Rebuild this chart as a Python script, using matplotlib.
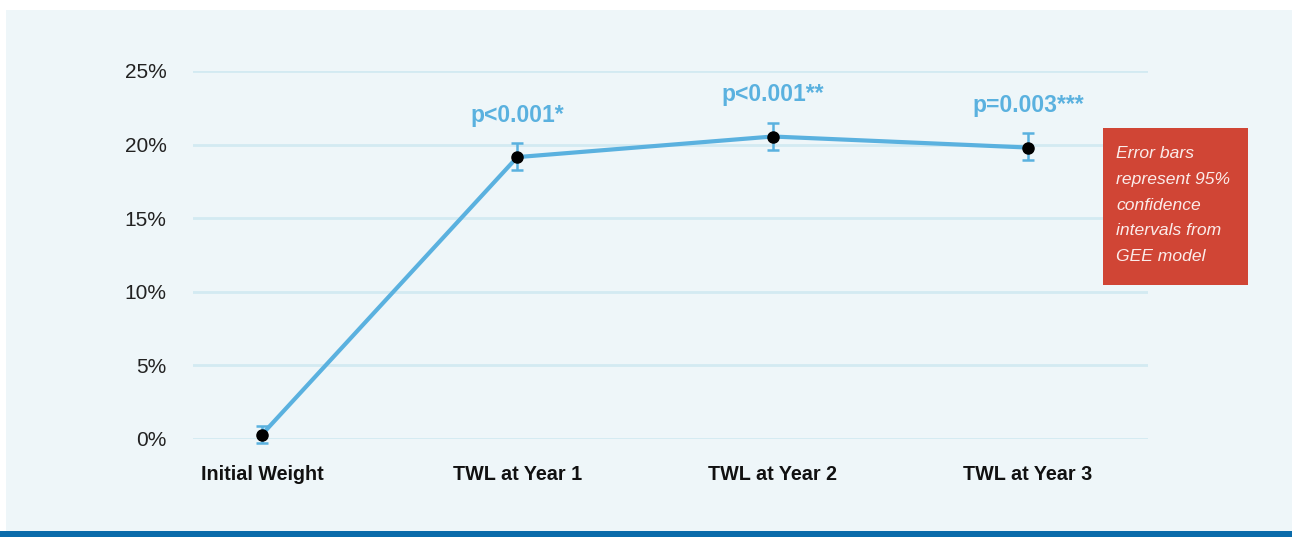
import matplotlib.pyplot as plt
from matplotlib.patches import Rectangle
import numpy as np

plt.rcParams['font.family'] = ['Liberation Sans', 'DejaVu Sans']

categories = ["Initial Weight", "TWL at Year 1", "TWL at Year 2", "TWL at Year 3"]
twl = [0.3, 19.15, 20.55, 19.8]
ci_low = [-0.3, 18.3, 19.65, 18.95]
ci_high = [0.9, 20.1, 21.5, 20.8]
p_labels = ["", "p<0.001*", "p<0.001**", "p=0.003***"]
y_ticks = [0, 5, 10, 15, 20, 25]

panel_bg = "#EEF6F9"
grid_col = "#D3EAF2"
line_col = "#5AB1DF"
box_col = "#D04535"
band_col = "#0A6BAA"

W, H = 1292, 537
fig = plt.figure(figsize=(W / 100, H / 100), dpi=100)
fig.patch.set_facecolor("white")

# light panel and dark band along the bottom
fig.patches.append(Rectangle((6 / W, 6 / H), 1 - 6 / W, 1 - 16 / H,
                             transform=fig.transFigure, facecolor=panel_bg,
                             edgecolor="none", zorder=-2))
fig.patches.append(Rectangle((0, 0), 1, 6 / H, transform=fig.transFigure,
                             facecolor=band_col, edgecolor="none", zorder=-2))

ax = fig.add_axes([193 / W, (H - 439) / H, (1148 - 193) / W, (439 - 71) / H])
ax.set_facecolor("none")
for s in ax.spines.values():
    s.set_visible(False)

x = np.arange(len(categories))
ax.set_xlim(-0.27, 3.47)
ax.set_ylim(0, 25)
ax.set_yticks(y_ticks)
ax.set_yticklabels([f"{t}%" for t in y_ticks], fontsize=15, color="#222222")
ax.set_xticks(x)
ax.set_xticklabels(categories, fontsize=14.2, fontweight="bold", color="#111111")
ax.tick_params(axis="y", length=0, pad=19)
ax.tick_params(axis="x", length=0, pad=19)
ax.grid(axis="y", color=grid_col, linewidth=2)
ax.set_axisbelow(True)

lo = np.array(twl) - np.array(ci_low)
hi = np.array(ci_high) - np.array(twl)
ax.errorbar(x, twl, yerr=[lo, hi], fmt="none", ecolor=line_col, elinewidth=1.8,
            capsize=4, capthick=1.8, clip_on=False, zorder=3)
ax.plot(x, twl, color=line_col, linewidth=3, zorder=4, clip_on=False)
ax.plot(x, twl, "o", color="black", markersize=8, zorder=5, clip_on=False)

for xi, hv, lab in zip(x, ci_high, p_labels):
    if lab:
        ax.annotate(lab, (xi, hv), xytext=(0, 20), textcoords="offset points",
                    ha="center", va="center", fontsize=16.5, fontweight="bold",
                    color=line_col)

# note box on the right
fig.patches.append(Rectangle((1103 / W, (H - 285) / H), 145 / W, 157 / H,
                             transform=fig.transFigure, facecolor=box_col,
                             edgecolor="none", zorder=2))
fig.text(1116 / W, (H - 146) / H,
         "Error bars\nrepresent 95%\nconfidence\nintervals from\nGEE model",
         ha="left", va="top", fontsize=12.6, style="italic", color="#FBECEA",
         linespacing=1.9, zorder=3)

fig.savefig("out.png", dpi=100, facecolor=fig.get_facecolor())
